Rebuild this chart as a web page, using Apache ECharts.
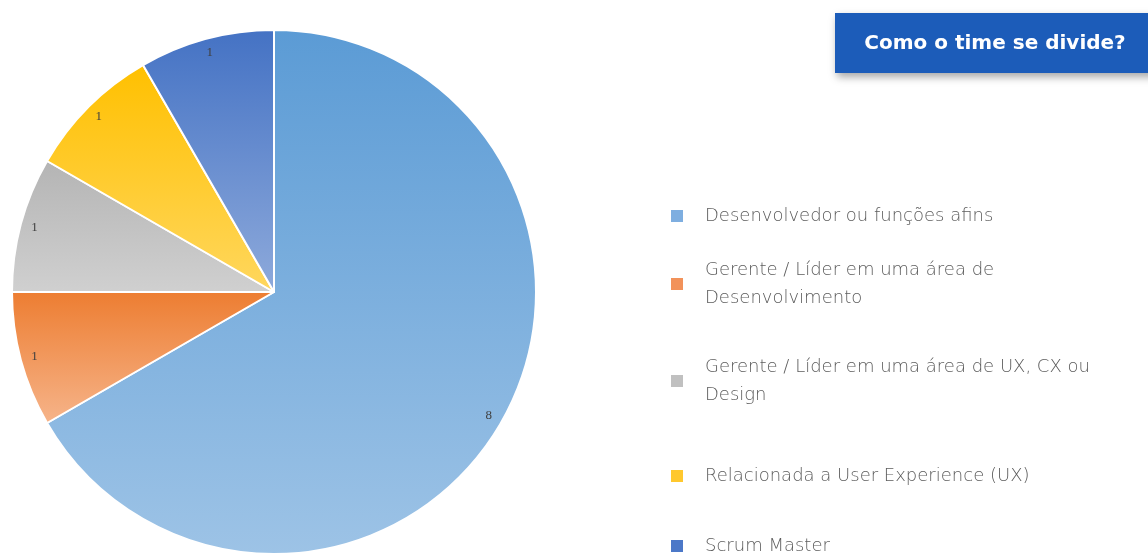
<!DOCTYPE html>
<html>
<head>
<meta charset="utf-8">
<script src="https://cdn.jsdelivr.net/npm/echarts@6/dist/echarts.min.js"></script>
<style>
  html, body { margin: 0; padding: 0; background: #ffffff; }
  #chart { width: 1148px; height: 554px; }
</style>
</head>
<body>
<div id="chart"></div>
<script>
// Team roles and headcount
const roles = [
  'Desenvolvedor ou funções afins',
  'Gerente / Líder em uma área de\nDesenvolvimento',
  'Gerente / Líder em uma área de UX, CX ou\nDesign',
  'Relacionada a User Experience (UX)',
  'Scrum Master'
];
const counts = [8, 1, 1, 1, 1];

// Slice fills: top and bottom stops of each vertical gradient
const topColors    = ['#5b9bd5', '#ed7d31', '#b4b4b4', '#ffc000', '#4472c4'];
const bottomColors = ['#9dc3e6', '#f6b48a', '#d0d0d0', '#ffd75e', '#8eaadb'];
const iconColors   = ['#7eaee0', '#f2925a', '#c0c0c0', '#ffc82e', '#4c78c8'];

// Legend row positions (centre of first text line)
const legendLineY = [216, 284, 381, 476, 546];
const LINE_H = 28;

const chart = echarts.init(document.getElementById('chart'));

const grad = (i) => new echarts.graphic.LinearGradient(0, 0, 0, 1, [
  { offset: 0, color: topColors[i] },
  { offset: 1, color: bottomColors[i] }
]);

const pieData = roles.map((name, i) => ({
  name, value: counts[i],
  itemStyle: { color: grad(i) }
}));

const labelData = roles.map((name, i) => ({ name, value: counts[i] }));

const legends = roles.map((name, i) => {
  const twoLines = name.indexOf('\n') >= 0;
  return {
    orient: 'vertical',
    left: 669,
    top: legendLineY[i] - (twoLines ? 1.5 : 0.5) * LINE_H,
    padding: 0,
    itemWidth: 14,
    itemHeight: 14,
    icon: 'rect',
    selectedMode: false,
    data: [{
      name,
      itemStyle: { color: iconColors[i] },
      textStyle: {
        padding: twoLines ? [LINE_H, 0, 0, 16] : [0, 0, 0, 16]
      }
    }],
    textStyle: {
      fontFamily: '"DejaVu Sans", sans-serif',
      fontWeight: 200,
      fontSize: 18,
      lineHeight: LINE_H,
      color: '#5c5c5c'
    }
  };
});

chart.setOption({
  animation: false,
  backgroundColor: '#ffffff',
  legend: legends,
  graphic: [{
    type: 'group',
    left: 835,
    top: 13,
    children: [{
      type: 'rect',
      shape: { x: 0, y: 0, width: 330, height: 60 },
      style: {
        fill: '#1c5cb9',
        shadowBlur: 8,
        shadowOffsetX: 2,
        shadowOffsetY: 4,
        shadowColor: 'rgba(0,0,0,0.35)'
      }
    }, {
      type: 'text',
      x: 160,
      y: 31,
      style: {
        text: 'Como o time se divide?',
        fill: '#ffffff',
        font: 'bold 20px "DejaVu Sans", sans-serif',
        align: 'center',
        verticalAlign: 'middle'
      }
    }]
  }],
  series: [{
    type: 'pie',
    center: [274, 292],
    radius: [0, 262],
    startAngle: 90,
    clockwise: true,
    silent: true,
    label: { show: false },
    labelLine: { show: false },
    itemStyle: { borderColor: '#ffffff', borderWidth: 2 },
    data: pieData
  }, {
    // value labels drawn near the rim
    type: 'pie',
    center: [274, 292],
    radius: [228, 262],
    startAngle: 90,
    clockwise: true,
    silent: true,
    legendHoverLink: false,
    itemStyle: { color: 'rgba(0,0,0,0)', borderWidth: 0 },
    label: {
      show: true,
      position: 'inside',
      formatter: '{c}',
      fontFamily: '"Liberation Serif", serif',
      fontSize: 13,
      color: '#404040'
    },
    labelLine: { show: false },
    data: labelData
  }]
});
</script>
</body>
</html>
